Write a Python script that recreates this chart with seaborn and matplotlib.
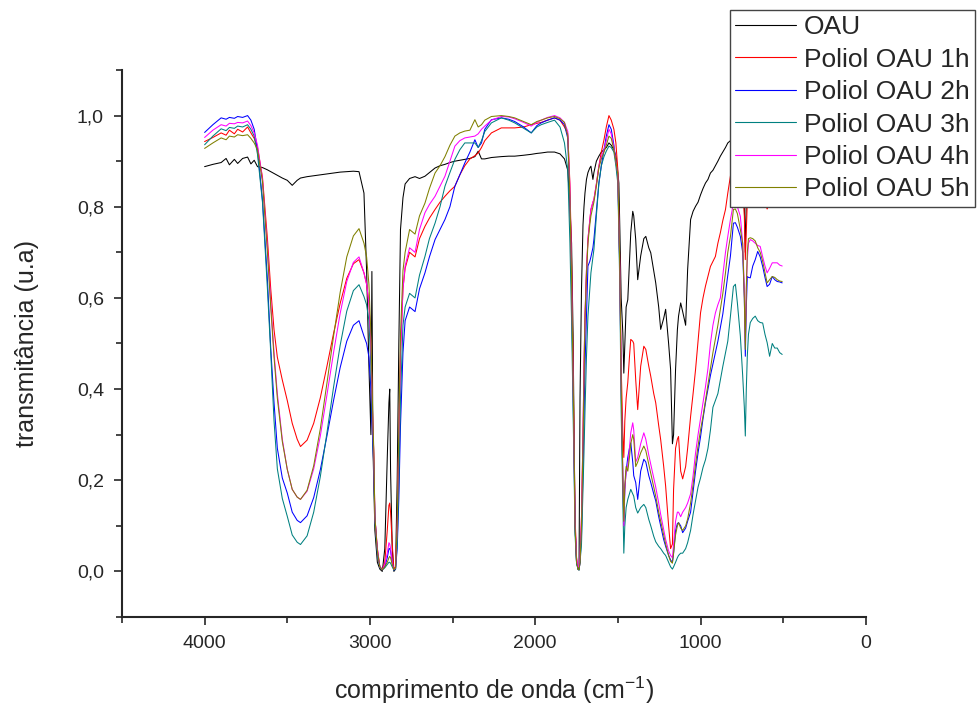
import matplotlib
matplotlib.use("Agg")
import matplotlib.pyplot as plt
from matplotlib.ticker import MultipleLocator, FuncFormatter
import seaborn as sns
import pandas as pd

# wavenumber grid (cm-1) shared by every spectrum
wavenumber = [
    4000, 3950, 3900, 3870, 3850, 3820, 3800, 3770, 3740, 3720, 3700, 3680, 3650, 3620, 3600, 3580, 3560, 3530, 3500, 3470, 3440, 3420,
    3380, 3340, 3300, 3260, 3220, 3180, 3140, 3100, 3066,
    3036, 3020, 3006, 2994, 2988, 2982, 2976, 2970, 2955, 2940, 2925, 2910, 2895, 2885, 2880, 2875, 2865, 2855, 2845, 2835, 2825, 2815, 2800, 2787,
    2760, 2727, 2700, 2667, 2640, 2606, 2576, 2546, 2516, 2486, 2456, 2426, 2395, 2365, 2345, 2325, 2305, 2265, 2205, 2160, 2124, 2070, 2024, 1990, 1964, 1925, 1883, 1850, 1823,
    1803, 1790, 1780, 1771, 1765, 1759, 1750, 1741, 1735, 1729, 1720, 1711, 1705, 1699, 1690, 1681, 1670, 1663, 1651, 1645, 1630, 1615, 1600, 1584, 1570, 1554, 1540, 1524, 1512, 1500, 1494, 1488, 1480, 1470, 1464, 1458, 1450,
    1440, 1430, 1422, 1410, 1404, 1392, 1380, 1362, 1343, 1331, 1313, 1301, 1283, 1271, 1253, 1241, 1223, 1211, 1193, 1181, 1170, 1163, 1151, 1140, 1133, 1120, 1108, 1090, 1078, 1060, 1045, 1030, 1015, 1000, 985, 970, 955, 940, 925, 910, 895, 880, 865, 849, 835, 819, 801,
    789, 777, 759, 745, 735, 729, 723, 717, 710, 699, 684, 669, 654, 639, 624, 610, 597, 582, 566, 551, 536, 521, 506,
]

oau = [
    .888, .893, .897, .906, .892, .904, .895, .906, .909, .894, .902, .888, .886, .881, .877, .873, .869, .863, .858, .847, .858, .863,
    .866, .868, .870, .872, .874, .876, .877, .878, .877,
    .830, .660, .450, .300, .658, .280, .180, .090, .020, .005, .000, .050, .250, .370, .400, .220, .050, .000, .005, .200, .500, .750, .820, .850,
    .862, .866, .862, .867, .875, .885, .890, .893, .897, .900, .902, .904, .906, .910, .922, .905, .905, .908, .910, .911, .911, .913, .915, .917, .918, .920, .920, .916, .905,
    .880, .800, .720, .520, .300, .100, .020, .005, .005, .380, .620, .760, .800, .830, .860, .875, .885, .889, .860, .875, .900, .911, .920, .925, .930, .940, .935, .925, .911, .874, .852, .750, .600, .523, .435, .500, .580,
    .596, .680, .743, .790, .780, .728, .640, .692, .730, .735, .710, .699, .660, .633, .580, .531, .555, .575, .500, .443, .280, .300, .443, .530, .560, .589, .570, .540, .662, .772, .790, .801, .810, .826, .840, .852, .860, .874, .880, .890, .900, .911, .920, .930, .940, .945, .950,
    .950, .930, .900, .850, .800, .700, .820, .860, .880, .890, .890, .890, .890, .890, .890, .890, .890, .890, .890, .890, .890, .890, .890,
]

poliol_1h = [
    .943, .952, .962, .957, .968, .960, .970, .964, .975, .962, .950, .930, .865, .730, .620, .530, .470, .420, .375, .325, .290, .274,
    .288, .325, .381, .450, .522, .588, .643, .675, .684,
    .655, .630, .590, .500, .400, .320, .250, .120, .050, .010, .003, .020, .090, .145, .150, .130, .060, .005, .010, .100, .300, .480, .620, .665,
    .700, .690, .730, .757, .775, .794, .810, .823, .835, .845, .870, .890, .905, .912, .918, .930, .945, .962, .973, .973, .973, .975, .980, .983, .985, .990, .995, .990, .975,
    .960, .850, .680, .450, .300, .120, .030, .005, .005, .020, .120, .300, .450, .560, .660, .728, .770, .794, .810, .816, .850, .889, .920, .947, .975, 1.00, .990, .970, .940, .880, .780, .670, .450, .304, .250, .330, .380,
    .414, .470, .509, .505, .500, .420, .355, .450, .494, .487, .450, .428, .390, .370, .320, .289, .231, .187, .100, .050, .060, .180, .270, .290, .296, .220, .203, .230, .270, .340, .390, .443, .505, .567, .600, .626, .648, .669, .680, .691, .720, .743, .770, .794, .830, .867, .910,
    .930, .920, .900, .850, .780, .684, .750, .810, .830, .840, .840, .835, .830, .830, .820, .810, .795, .810, .825, .830, .830, .825, .825,
]

poliol_2h = [
    .963, .980, .995, .992, .996, .994, .998, .996, 1.00, .990, .970, .925, .815, .640, .490, .370, .270, .205, .172, .130, .112, .107,
    .122, .162, .223, .297, .375, .447, .505, .540, .550,
    .516, .500, .470, .400, .330, .280, .220, .120, .040, .010, .004, .010, .030, .050, .050, .045, .020, .003, .005, .050, .160, .320, .480, .550,
    .580, .570, .620, .655, .690, .728, .750, .772, .800, .845, .870, .896, .920, .947, .930, .940, .970, .991, .995, .992, .987, .975, .962, .978, .984, .990, .995, .990, .980,
    .950, .800, .620, .400, .260, .100, .020, .005, .003, .020, .080, .220, .330, .450, .560, .670, .680, .690, .710, .728, .790, .852, .890, .925, .955, .980, .970, .935, .900, .860, .750, .650, .400, .200, .100, .180, .220,
    .250, .270, .282, .240, .210, .195, .158, .220, .246, .240, .210, .195, .170, .155, .120, .100, .070, .055, .035, .025, .020, .040, .090, .105, .107, .100, .085, .095, .110, .130, .175, .220, .260, .295, .335, .370, .400, .430, .455, .480, .505, .535, .565, .610, .650, .692, .764,
    .765, .755, .735, .700, .600, .472, .580, .647, .645, .644, .670, .684, .702, .690, .669, .645, .625, .630, .647, .640, .636, .635, .633,
]

poliol_3h = [
    .936, .955, .971, .967, .974, .972, .977, .975, .980, .970, .955, .915, .810, .620, .480, .330, .225, .160, .121, .080, .064, .059,
    .078, .130, .208, .304, .404, .496, .571, .616, .629,
    .603, .585, .550, .450, .360, .300, .220, .110, .040, .008, .003, .008, .015, .020, .020, .018, .010, .003, .005, .060, .200, .380, .540, .580,
    .610, .600, .650, .691, .730, .764, .800, .845, .875, .904, .925, .940, .940, .940, .930, .945, .965, .984, .995, .990, .984, .972, .962, .975, .980, .985, .990, .975, .940,
    .880, .720, .550, .360, .220, .080, .020, .005, .003, .020, .060, .180, .260, .350, .470, .560, .620, .655, .690, .706, .780, .850, .890, .910, .922, .933, .930, .920, .890, .850, .740, .620, .350, .150, .040, .100, .140,
    .158, .170, .180, .170, .165, .140, .128, .140, .147, .140, .114, .100, .077, .065, .055, .050, .040, .035, .020, .010, .005, .010, .020, .030, .035, .040, .040, .050, .063, .090, .125, .155, .185, .205, .228, .245, .270, .310, .360, .375, .390, .420, .450, .480, .505, .560, .625,
    .630, .589, .516, .430, .360, .297, .400, .472, .520, .546, .555, .560, .550, .546, .545, .520, .502, .472, .500, .490, .490, .480, .476,
]

poliol_4h = [
    .952, .968, .980, .977, .983, .982, .985, .984, .988, .978, .962, .935, .860, .710, .590, .480, .390, .290, .224, .180, .163, .158,
    .176, .225, .297, .387, .480, .566, .636, .678, .690,
    .655, .630, .590, .500, .400, .320, .250, .120, .050, .010, .004, .015, .040, .063, .060, .050, .020, .004, .008, .100, .300, .480, .620, .670,
    .710, .700, .750, .787, .805, .823, .845, .867, .900, .933, .945, .951, .953, .955, .960, .970, .977, .990, .998, .997, .993, .985, .977, .985, .990, .996, 1.00, .995, .985,
    .965, .840, .660, .430, .290, .110, .030, .010, .010, .030, .120, .300, .450, .560, .660, .730, .770, .794, .810, .816, .850, .889, .910, .925, .945, .970, .960, .930, .900, .870, .760, .660, .420, .220, .100, .180, .220,
    .231, .270, .304, .326, .310, .240, .250, .280, .304, .290, .255, .235, .205, .185, .150, .125, .092, .070, .045, .035, .030, .060, .110, .130, .130, .120, .130, .140, .150, .170, .210, .260, .300, .335, .370, .405, .445, .500, .540, .567, .585, .600, .650, .700, .735, .772, .808,
    .810, .800, .779, .720, .620, .502, .620, .684, .720, .728, .725, .720, .715, .713, .690, .670, .655, .665, .677, .677, .677, .672, .670,
]

poliol_5h = [
    .928, .940, .951, .947, .955, .953, .958, .956, .958, .950, .940, .925, .855, .700, .580, .470, .380, .285, .224, .180, .163, .158,
    .178, .232, .313, .413, .516, .612, .690, .736, .752,
    .720, .690, .630, .520, .420, .330, .260, .120, .045, .010, .004, .010, .020, .030, .033, .030, .015, .004, .008, .100, .320, .520, .660, .700,
    .750, .740, .780, .808, .840, .874, .890, .910, .935, .955, .962, .966, .968, .991, .975, .980, .990, .998, 1.00, .998, .995, .987, .980, .987, .990, .995, .998, .993, .985,
    .955, .820, .640, .420, .280, .100, .020, .005, .003, .020, .100, .280, .420, .550, .650, .720, .760, .780, .800, .810, .845, .885, .905, .920, .935, .955, .950, .925, .900, .870, .760, .660, .410, .210, .110, .190, .230,
    .220, .250, .280, .300, .290, .230, .240, .260, .275, .265, .235, .215, .185, .165, .130, .110, .080, .060, .035, .022, .018, .040, .080, .100, .107, .095, .090, .100, .115, .150, .190, .235, .275, .310, .340, .375, .410, .445, .480, .510, .540, .575, .610, .655, .700, .735, .794,
    .795, .785, .750, .720, .600, .487, .620, .700, .730, .732, .730, .725, .710, .700, .680, .655, .633, .640, .647, .645, .640, .637, .636,
]

series_names = ['OAU', 'Poliol OAU 1h', 'Poliol OAU 2h', 'Poliol OAU 3h', 'Poliol OAU 4h', 'Poliol OAU 5h']
series_values = [oau, poliol_1h, poliol_2h, poliol_3h, poliol_4h, poliol_5h]
series_colors = ['#000000', '#FF0000', '#0000FF', '#008080', '#FF00FF', '#808000']

frames = []
for name, vals in zip(series_names, series_values):
    frames.append(pd.DataFrame({'wn': wavenumber, 'T': vals, 'amostra': name}))
df = pd.concat(frames, ignore_index=True)

sns.set_style("ticks")
plt.rcParams['font.family'] = ['Liberation Sans', 'DejaVu Sans']
plt.rcParams['mathtext.fontset'] = 'custom'
plt.rcParams['mathtext.rm'] = 'Liberation Sans'
plt.rcParams['mathtext.it'] = 'Liberation Sans:italic'

fig = plt.figure(figsize=(9.78, 7.10), dpi=100)
ax = fig.add_axes([0.1247, 0.131, 0.7606, 0.7704])

sns.lineplot(data=df, x='wn', y='T', hue='amostra', hue_order=series_names,
             palette=dict(zip(series_names, series_colors)), sort=False,
             estimator=None, linewidth=0.75, ax=ax)

ax.set_xlim(4500, 0)
ax.set_ylim(-0.1, 1.1)
ax.xaxis.set_major_locator(MultipleLocator(1000))
ax.xaxis.set_minor_locator(MultipleLocator(500))
ax.yaxis.set_major_locator(MultipleLocator(0.2))
ax.yaxis.set_minor_locator(MultipleLocator(0.1))
ax.xaxis.set_major_formatter(FuncFormatter(lambda v, p: '{:.0f}'.format(v)))
ax.yaxis.set_major_formatter(FuncFormatter(lambda v, p: '{:.1f}'.format(v).replace('.', ',')))

for side in ['top', 'right']:
    ax.spines[side].set_visible(False)
for side in ['left', 'bottom']:
    ax.spines[side].set_linewidth(1.5)
ax.tick_params(which='major', direction='out', length=6, width=1.2, labelsize=14, pad=7)
ax.tick_params(which='minor', direction='out', length=4, width=1.2)

ax.set_xlabel('comprimento de onda (cm$^{-1}$)', fontsize=18, labelpad=16)
ax.set_ylabel('transmitância (u.a)', fontsize=18, labelpad=27)

handles, labels = ax.get_legend_handles_labels()
leg = ax.legend(handles, labels, loc='upper right', bbox_to_anchor=(0.997, 0.986),
                bbox_transform=fig.transFigure, fontsize=19, frameon=True,
                fancybox=False, framealpha=1, edgecolor='#444444',
                borderpad=0.2, labelspacing=0.32, handlelength=2.3,
                handletextpad=0.3, borderaxespad=0)
leg.get_frame().set_linewidth(1.0)
for line in leg.get_lines():
    line.set_linewidth(0.8)

fig.savefig('out.png', dpi=100)
